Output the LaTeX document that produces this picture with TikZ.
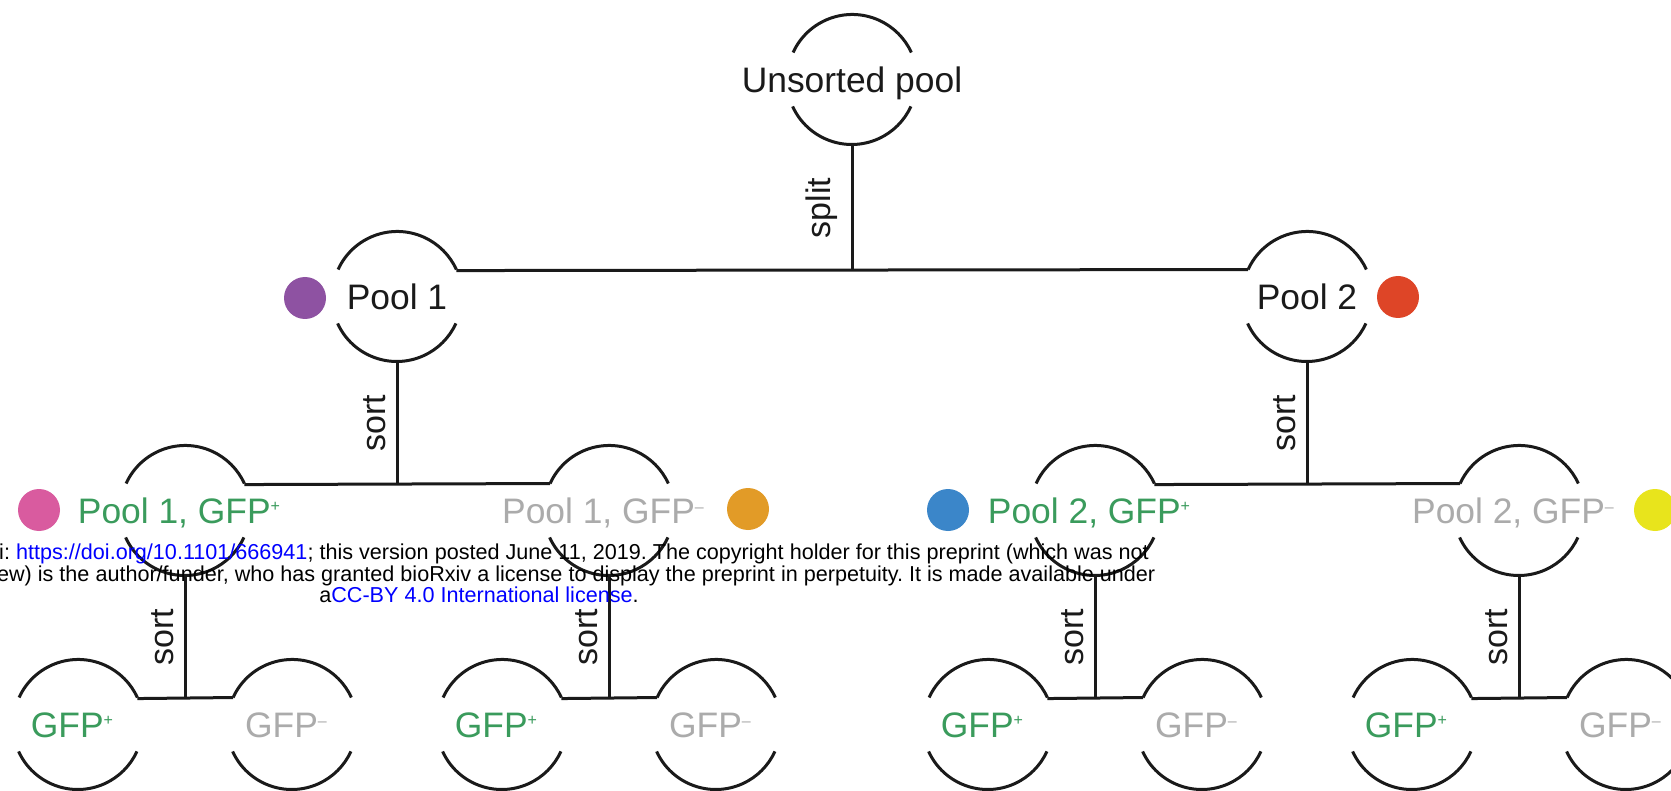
\documentclass[tikz,border=0pt]{standalone}
\usepackage{fontspec}
\setmainfont{Liberation Sans}
\frenchspacing

\definecolor{ink}{HTML}{1A1A1A}
\definecolor{gfpgreen}{HTML}{3A9B5C}
\definecolor{gfpgray}{HTML}{ABABAB}
\definecolor{linkblue}{HTML}{0000FF}
\definecolor{dotpurple}{HTML}{8E52A2}
\definecolor{dotred}{HTML}{DE4527}
\definecolor{dotpink}{HTML}{D95B9F}
\definecolor{dotorange}{HTML}{E29B27}
\definecolor{dotblue}{HTML}{3B86C9}
\definecolor{dotyellow}{HTML}{E8E41C}

% small raised signs after GFP
\newcommand\gfpplus{\raisebox{6pt}{\fontsize{8pt}{8pt}\selectfont +}}
\newcommand\gfpminus{\raisebox{5.5pt}{\fontsize{8pt}{8pt}\selectfont \textendash}}

\begin{document}
\begin{tikzpicture}[x=0.5pt, y=-0.5pt,
  ring/.style={circle, minimum size=65pt, inner sep=0pt, outer sep=0pt},
  rimline/.style={line width=1.5pt, draw=ink},
  wire/.style={line width=1.5pt, draw=ink},
  lab/.style={inner sep=0pt, text height=12.8pt, text depth=0pt,
              font=\fontsize{17.7pt}{20pt}\selectfont},
  tblack/.style={lab, text=ink},
  tgreen/.style={lab, text=gfpgreen, xshift=-3pt},
  tgray/.style={lab, text=gfpgray, xshift=-3pt},
  steplabel/.style={rotate=90, anchor=south, inner sep=5pt, text=ink,
              font=\fontsize{17pt}{17pt}\selectfont},
  spot/.style={circle, minimum size=21pt, inner sep=0pt, outer sep=0pt},
  stamp/.style={inner sep=0pt, anchor=base, text=black,
              font=\fontsize{10.8pt}{11pt}\selectfont}
]
\fill[white] (0,0) rectangle (1671,791);
\useasboundingbox (0,0) rectangle (1671,791);

% pools
\node[ring] (u)    at (852,80)  {};
\node[ring] (p1)   at (397,297) {};
\node[ring] (p2)   at (1307,297) {};
\node[ring] (p1a)  at (185,511) {};
\node[ring] (p1b)  at (609,511) {};
\node[ring] (p2a)  at (1095,511) {};
\node[ring] (p2b)  at (1519,511) {};
\node[ring] (p1aa) at (78,725)  {};
\node[ring] (p1ab) at (292,725) {};
\node[ring] (p1ba) at (502,725) {};
\node[ring] (p1bb) at (716,725) {};
\node[ring] (p2aa) at (988,725) {};
\node[ring] (p2ab) at (1202,725) {};
\node[ring] (p2ba) at (1412,725) {};
\node[ring] (p2bb) at (1626,725) {};

% open circles: an upper and a lower arc for every pool
\foreach \n in {u,p1,p2,p1a,p1b,p2a,p2b,p1aa,p1ab,p1ba,p1bb,p2aa,p2ab,p2ba,p2bb} {
  \draw[rimline] (\n.155.5) arc[start angle=155.5, end angle=24.5, radius=32.5pt];
  \draw[rimline] (\n.204.5) arc[start angle=204.5, end angle=335.5, radius=32.5pt];
}

% pool names
\node[tblack] (u-t)  at (u)  {Unsorted pool};
\node[tblack] (p1-t) at (p1) {Pool 1};
\node[tblack] (p2-t) at (p2) {Pool 2};
\node[tgreen] (p1a-t) at (p1a) {Pool 1, GFP\gfpplus};
\node[tgray]  (p1b-t) at (p1b) {Pool 1, GFP\gfpminus};
\node[tgreen] (p2a-t) at (p2a) {Pool 2, GFP\gfpplus};
\node[tgray]  (p2b-t) at (p2b) {Pool 2, GFP\gfpminus};
\foreach \n in {p1aa,p1ba,p2aa,p2ba} \node[tgreen] (\n-t) at (\n) {GFP\gfpplus};
\foreach \n in {p1ab,p1bb,p2ab,p2bb} \node[tgray]  (\n-t) at (\n) {GFP\gfpminus};

% colour markers
\node[spot, fill=dotpurple] (s-p1)  at (305,298)  {};
\node[spot, fill=dotred]    (s-p2)  at (1398,297) {};
\node[spot, fill=dotpink]   (s-p1a) at (39,510)   {};
\node[spot, fill=dotorange] (s-p1b) at (748,509)  {};
\node[spot, fill=dotblue]   (s-p2a) at (948,510)  {};
\node[spot, fill=dotyellow] (s-p2b) at (1655,510) {};

% split
\draw[wire] (u.south) -- (u.south |- p1.24.5) node[steplabel, midway, inner sep=6.5pt] {split};
\draw[wire] (p1.24.5) -- (p2.155.5);

% first sorts
\draw[wire] (p1.south) -- (p1.south |- p1a.24.5) node[steplabel, midway] {sort};
\draw[wire] (p1a.24.5) -- (p1b.155.5);
\draw[wire] (p2.south) -- (p2.south |- p2a.24.5) node[steplabel, midway] {sort};
\draw[wire] (p2a.24.5) -- (p2b.155.5);

% second sorts
\foreach \n in {p1a,p1b,p2a,p2b} {
  \draw[wire] (\n.south) -- (\n.south |- \n a.24.5) node[steplabel, midway] {sort};
  \draw[wire] (\n a.24.5) -- (\n b.155.5);
}

% preprint stamp
\node[stamp] (stamp1) at (484,559) {bioRxiv preprint doi: \textcolor{linkblue}{https://doi.org/10.1101/666941}; this version posted June 11, 2019. The copyright holder for this preprint (which was not};
\node[stamp] (stamp2) at (479,581) {certified by peer review) is the author/funder, who has granted bioRxiv a license to display the preprint in perpetuity. It is made available under};
\node[stamp] (stamp3) at (479,602) {a\textcolor{linkblue}{CC-BY 4.0 International license}.};
\end{tikzpicture}
\end{document}
